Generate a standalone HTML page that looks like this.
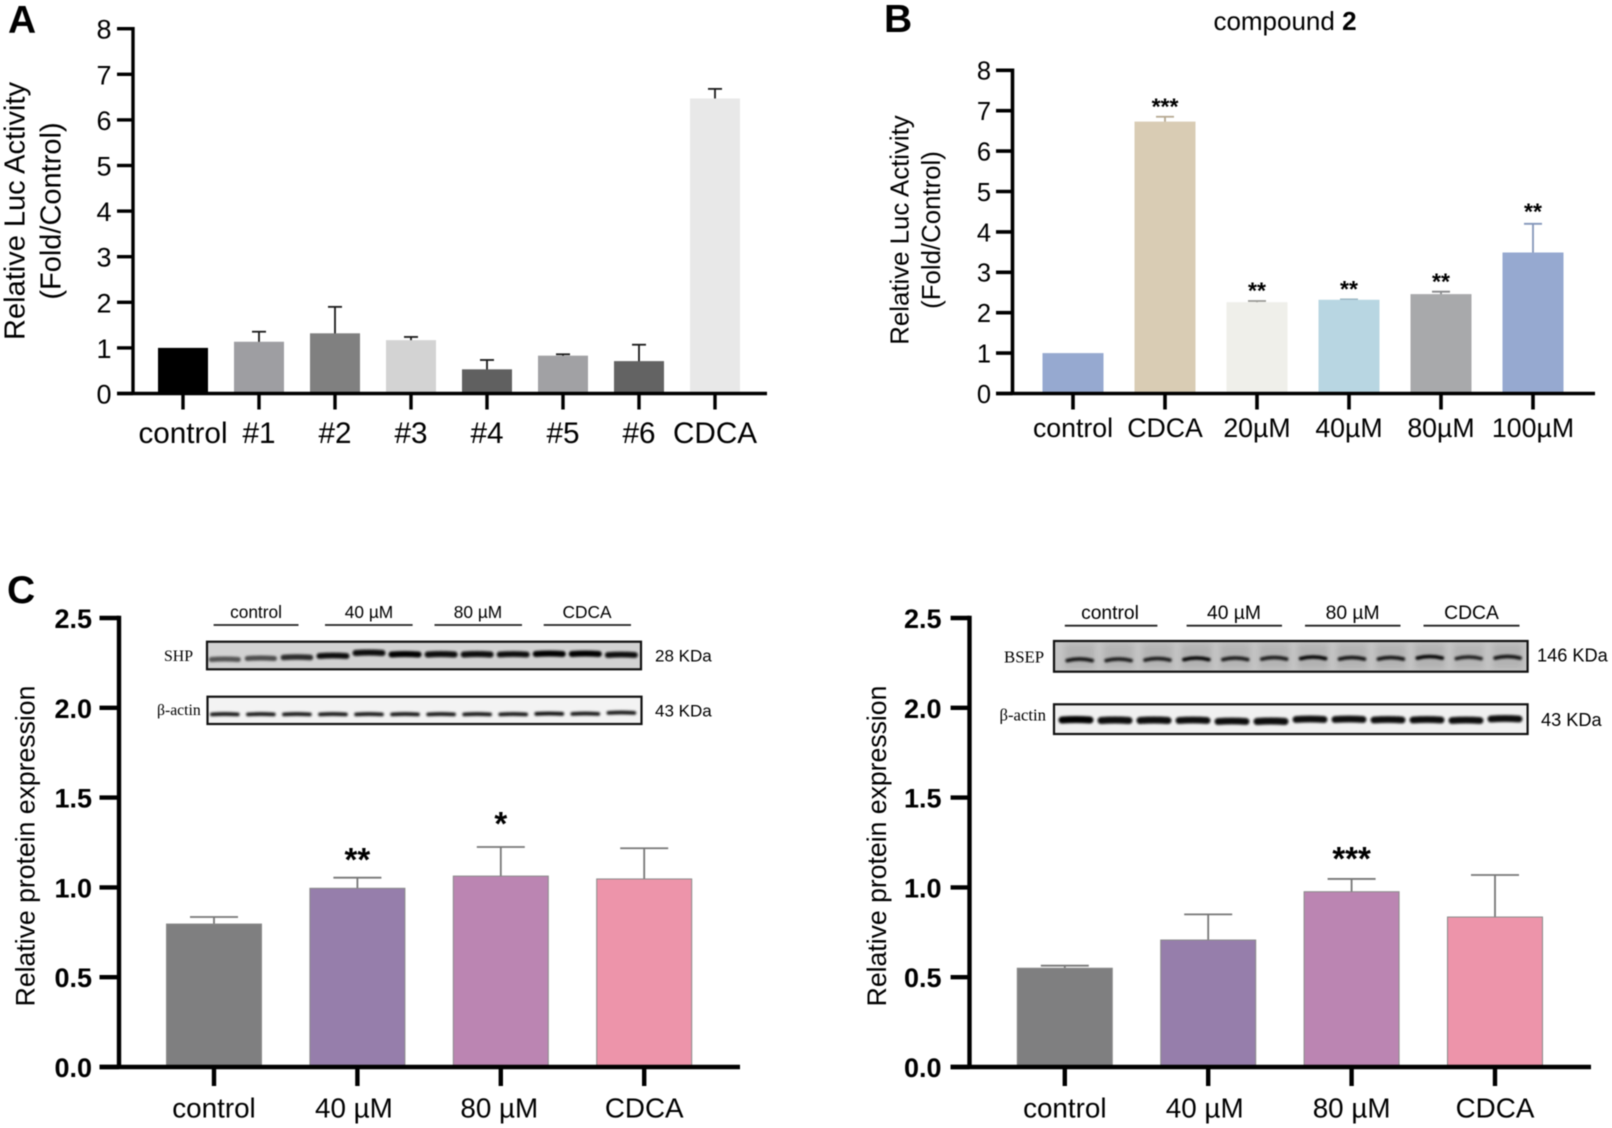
<!DOCTYPE html>
<html lang="en">
<head>
<meta charset="utf-8">
<title>Relative Luc Activity and protein expression panels</title>
<style>
html,body{margin:0;padding:0;background:#fff;width:1612px;height:1128px;overflow:hidden}
svg{display:block;filter:blur(.45px)}
text{font-family:"Liberation Sans",sans-serif;fill:#000}
.serif{font-family:"Liberation Serif",serif}
</style>
</head>
<body>
<svg id="figure" xmlns="http://www.w3.org/2000/svg" width="1612" height="1128" viewBox="0 0 1612 1128">
  <defs>
    <filter id="bandBlur" filterUnits="userSpaceOnUse" x="0" y="0" width="1612" height="1128"><feGaussianBlur stdDeviation="1"/></filter>
    <filter id="laneBlur" x="-30%" y="-30%" width="160%" height="160%"><feGaussianBlur stdDeviation="3"/></filter>
  </defs>
  <rect width="1612" height="1128" fill="#fff"/>

  <text x="8" y="33" font-size="39" font-weight="bold">A</text>
  <text x="884" y="32" font-size="39" font-weight="bold">B</text>
  <text x="7" y="603" font-size="39" font-weight="bold">C</text>
  <text x="1285" y="30" font-size="26" text-anchor="middle">compound <tspan font-weight="bold">2</tspan></text>

  <g font-size="29" text-anchor="middle">
    <text transform="translate(24.5 211) rotate(-90)">Relative Luc Activity</text>
    <text transform="translate(60.5 211) rotate(-90)">(Fold/Control)</text>
  </g>
  <g font-size="25.8" text-anchor="middle">
    <text transform="translate(908.5 230) rotate(-90)">Relative Luc Activity</text>
    <text transform="translate(940 230) rotate(-90)">(Fold/Control)</text>
  </g>
  <text font-size="26.6" text-anchor="middle" transform="translate(34.5 846) rotate(-90)">Relative protein expression</text>
  <text font-size="26.6" text-anchor="middle" transform="translate(886 846) rotate(-90)">Relative protein expression</text>

  <g id="chart-a"></g>
  <g id="chart-b"></g>
  <g id="chart-shp"></g>
  <g id="chart-bsep"></g>

  <g id="blot-shp">
    <g font-size="17.3" text-anchor="middle">
      <text x="256" y="618">control</text><text x="369" y="618">40 µM</text><text x="478" y="618">80 µM</text><text x="587" y="618">CDCA</text>
    </g>
    <g stroke="#222" stroke-width="1.8">
      <line x1="213.6" y1="625" x2="298.5" y2="625"/><line x1="325" y1="625" x2="412.6" y2="625"/><line x1="434.5" y1="625" x2="522" y2="625"/><line x1="543.7" y1="625" x2="631" y2="625"/>
    </g>
    <text class="serif" x="164" y="661" font-size="15.8">SHP</text>
    <text class="serif" x="157" y="715" font-size="15.7">β-actin</text>
    <text x="655" y="661.7" font-size="17">28 KDa</text>
    <text x="655" y="716.7" font-size="17">43 KDa</text>
  </g>

  <g id="blot-bsep">
    <g font-size="19.3" text-anchor="middle">
      <text x="1110" y="619">control</text><text x="1234" y="619">40 µM</text><text x="1352.6" y="619">80 µM</text><text x="1471.5" y="619">CDCA</text>
    </g>
    <g stroke="#222" stroke-width="1.8">
      <line x1="1064.8" y1="625.7" x2="1157.4" y2="625.7"/><line x1="1186.6" y1="625.7" x2="1282" y2="625.7"/><line x1="1305" y1="625.7" x2="1400.5" y2="625.7"/><line x1="1423.5" y1="625.7" x2="1519.5" y2="625.7"/>
    </g>
    <text class="serif" x="1004" y="662.3" font-size="16.8">BSEP</text>
    <text class="serif" x="999.5" y="720.7" font-size="16.7">β-actin</text>
    <text x="1537" y="661.7" font-size="18.2">146 KDa</text>
    <text x="1541" y="726" font-size="18.2">43 KDa</text>
  </g>
</svg>

<script>
/* ---------- Panel A data ---------- */
const aCategories = ['control', '#1', '#2', '#3', '#4', '#5', '#6', 'CDCA'];
const aValues = [1.0, 1.135, 1.32, 1.17, 0.53, 0.83, 0.71, 6.47];
const aErrors = [0, 0.22, 0.58, 0.07, 0.205, 0.03, 0.36, 0.21];
const aStars = ['', '', '', '', '', '', '', ''];
const aTicks = ['0', '1', '2', '3', '4', '5', '6', '7', '8'];
const aBarColors = ['#000000', '#9e9ea2', '#808080', '#d3d3d3', '#606060', '#a1a1a4', '#636363', '#e8e8e8'];

/* ---------- Panel B data ---------- */
const bCategories = ['control', 'CDCA', '20µM', '40µM', '80µM', '100µM'];
const bValues = [1.0, 6.73, 2.26, 2.32, 2.46, 3.49];
const bErrors = [0, 0.12, 0.03, 0.01, 0.06, 0.71];
const bStars = ['', '***', '**', '**', '**', '**'];
const bTicks = ['0', '1', '2', '3', '4', '5', '6', '7', '8'];
const bBarColors = ['#96a9d0', '#d9ccb4', '#efefea', '#b8d6e2', '#a8a9ab', '#96a9d0'];
const bErrorColors = ['#96a9d0', '#b5a890', '#999994', '#98b4c0', '#87888a', '#8496ba'];

/* ---------- Panel C data ---------- */
const cCategories = ['control', '40 µM', '80 µM', 'CDCA'];
const cTicks = ['0.0', '0.5', '1.0', '1.5', '2.0', '2.5'];
const cBarColors = ['#7f7f80', '#967eab', '#bb85b2', '#ed94aa'];
const shpValues = [0.796, 0.995, 1.063, 1.047];
const shpErrors = [0.039, 0.059, 0.162, 0.171];
const shpStars = ['', '**', '*', ''];
const bsepValues = [0.55, 0.707, 0.976, 0.835];
const bsepErrors = [0.014, 0.143, 0.071, 0.234];
const bsepStars = ['', '', '***', ''];

/* ---------- Western blot band densities (12 lanes) ---------- */
const shpDensity = [0.45, 0.5, 0.72, 0.92, 0.95, 0.98, 0.95, 0.95, 0.9, 0.98, 0.98, 0.92];
const shpMigration = [5, 4, 3, 1.5, -1.5, 0, 0, 0, 0, -0.5, -0.5, 0.5];
const shpActinDensity = [0.85, 0.85, 0.85, 0.85, 0.85, 0.85, 0.85, 0.85, 0.85, 0.9, 0.85, 0.85];
const shpActinMigration = [0, 0, 0, 0, 0, 0, 0, 0, 0, -0.5, -0.5, -1.5];
const bsepDensity = [0.92, 0.88, 0.88, 1, 0.88, 0.88, 1, 0.9, 0.92, 1, 0.82, 0.9];
const bsepMigration = [2, 2, 1.5, 1, 1, 0.5, 0, 0.5, 0.5, -0.5, 0, -0.5];
const bsepActinDensity = [0.98, 0.95, 0.95, 0.92, 0.92, 0.95, 0.9, 0.9, 0.92, 0.92, 0.92, 0.92];
const bsepActinMigration = [0, 0.5, 0.5, 0.5, 1.5, 1.5, -0.5, -0.5, 0, 0, 0.5, -1];

const SVG_NS = document.getElementById('figure').namespaceURI;

function mk(tag, attrs, parent, text) {
  const node = document.createElementNS(SVG_NS, tag);
  for (const key in attrs) node.setAttribute(key, attrs[key]);
  if (text !== undefined) node.textContent = text;
  parent.appendChild(node);
  return node;
}

function drawChart(rootId, c) {
  const root = document.getElementById(rootId);
  const yScale = function (v) { return c.baseY - v * c.unit; };
  const xScale = function (i) { return c.firstX + i * c.pitch; };

  c.categories.forEach(function (cat, i) {
    const top = yScale(c.values[i]);
    const errTop = yScale(c.values[i] + c.errors[i]);
    const errColor = c.errorColors ? c.errorColors[i] : c.errorColor;
    if (c.errors[i] > 0) {
      const stem = mk('line', { x1: xScale(i), x2: xScale(i), y1: top + 2, y2: errTop, stroke: errColor, 'stroke-width': c.errWidth }, root);
      
      
      const cap = mk('line', { x1: xScale(i) - c.capWidth / 2, x2: xScale(i) + c.capWidth / 2, y1: errTop, y2: errTop, stroke: errColor, 'stroke-width': c.errWidth }, root);
      
      
    }
    const bar = mk('rect', { x: xScale(i) - c.barWidth / 2, y: top, width: c.barWidth, height: c.baseY - top, fill: c.colors[i] }, root);
    if (c.barStroke) {
      bar.setAttribute('stroke', c.barStroke);
      bar.setAttribute('stroke-width', '1');
    }
    
    

    if (c.stars[i]) {
      const lift = (c.starLift && c.starLift[cat]) || 0;
      const star = mk('text', { x: xScale(i), y: errTop - c.starGap - lift + c.starSize * 0.55, 'font-size': c.starSize, 'font-weight': 'bold', 'text-anchor': 'middle' }, root, c.stars[i]);
      
      
    }

    const tick = mk('line', { x1: xScale(i), x2: xScale(i), y1: c.baseY, y2: c.baseY + c.tickLen, stroke: '#000', 'stroke-width': c.axisWidth }, root);
    
    

    const nudge = (c.labelNudge && c.labelNudge[cat]) || 0;
    const label = mk('text', { x: xScale(i) + nudge, y: c.xLabelY, 'font-size': c.xLabelSize, 'text-anchor': 'middle' }, root, cat);
    
    
  });

  const yAxis = mk('line', { x1: c.axisX, x2: c.axisX, y1: yScale(parseFloat(c.ticks[c.ticks.length - 1])) - c.axisWidth / 2, y2: c.baseY, stroke: '#000', 'stroke-width': c.axisWidth }, root);
  
  

  const xAxis = mk('line', { x1: c.tickLeft, x2: c.axisRight, y1: c.baseY, y2: c.baseY, stroke: '#000', 'stroke-width': c.axisWidth }, root);
  
  

  c.ticks.forEach(function (t) {
    const v = parseFloat(t);
    const yTick = mk('line', { x1: c.tickLeft, x2: c.axisX, y1: yScale(v), y2: yScale(v), stroke: '#000', 'stroke-width': c.axisWidth }, root);
    
    
    const yLabel = mk('text', { x: c.yLabelX, y: yScale(v) + c.yLabelSize * 0.35 + 0.5, 'font-size': c.yLabelSize, 'font-weight': c.yLabelWeight, 'text-anchor': 'end' }, root, t);
    
    
  });
}

function drawBlot(rootId, name, b) {
  const root = document.getElementById(rootId);
  const frame = mk('g', {}, root);
  
  
  mk('rect', { x: b.x, y: b.y, width: b.w, height: b.h, fill: b.bg }, frame);
  const bands = mk('g', { filter: 'url(#bandBlur)' }, frame);
  
  
  b.density.forEach(function (d, i) {
    const cx = b.firstLane + i * b.pitch;
    const cy = b.bandY + b.migration[i];
    if (b.laneShade) {
      mk('rect', { x: cx - b.bandW * 0.6, y: b.y + 3, width: b.bandW * 1.2, height: b.h - 6, fill: '#000', opacity: 0.09 * d, filter: 'url(#laneBlur)' }, frame);
    }
    const tone = Math.round(150 * (1 - d));
    const band = mk('path', {
      d: 'M' + (cx - b.bandW / 2) + ' ' + (cy + b.arch) + ' Q' + cx + ' ' + (cy - b.arch) + ' ' + (cx + b.bandW / 2) + ' ' + (cy + b.arch),
      fill: 'none', stroke: 'rgb(' + tone + ',' + tone + ',' + tone + ')',
      'stroke-width': b.bandT * (0.7 + 0.3 * d), 'stroke-linecap': 'round'
    }, bands);
    
    
  });
  frame.appendChild(bands);
  mk('rect', { x: b.x, y: b.y, width: b.w, height: b.h, fill: 'none', stroke: '#111', 'stroke-width': 2.2 }, frame);
}

drawChart('chart-a', {
  categories: aCategories, values: aValues, errors: aErrors, stars: aStars, ticks: aTicks, colors: aBarColors,
  errorColor: '#1a1a1a', errWidth: 1.8, capWidth: 14, barWidth: 50, firstX: 183, pitch: 76,
  baseY: 393.5, unit: 45.6, axisX: 133, tickLeft: 117, axisRight: 767, axisWidth: 3.4, tickLen: 16,
  xLabelY: 443, xLabelSize: 29.7, yLabelX: 111.5, yLabelSize: 27, yLabelWeight: 'normal',
  starSize: 24, starGap: 14
});

drawChart('chart-b', {
  categories: bCategories, values: bValues, errors: bErrors, stars: bStars, ticks: bTicks, colors: bBarColors,
  errorColors: bErrorColors, errWidth: 1.8, capWidth: 18, barWidth: 61, firstX: 1073, pitch: 92,
  baseY: 393.5, unit: 40.4, axisX: 1012.5, tickLeft: 996, axisRight: 1595, axisWidth: 3.6, tickLen: 16,
  xLabelY: 437, xLabelSize: 26.7, yLabelX: 991, yLabelSize: 25.5, yLabelWeight: 'normal',
  starSize: 23, starGap: 15, starLift: { '100µM': 2 }
});

drawChart('chart-shp', {
  categories: cCategories, values: shpValues, errors: shpErrors, stars: shpStars, ticks: cTicks, colors: cBarColors,
  barStroke: '#8a8a8a', errorColor: '#777', errWidth: 1.8, capWidth: 48, barWidth: 95, firstX: 214, pitch: 143.4,
  baseY: 1067, unit: 179.6, axisX: 119, tickLeft: 99.5, axisRight: 740, axisWidth: 4.4, tickLen: 19,
  xLabelY: 1117.5, xLabelSize: 27.8, yLabelX: 92, yLabelSize: 27, yLabelWeight: 'bold',
  starSize: 33, starGap: 25, starLift: { '80 µM': 5 }, labelNudge: { '40 µM': -3.5, '80 µM': -1.5 }
});

drawChart('chart-bsep', {
  categories: cCategories, values: bsepValues, errors: bsepErrors, stars: bsepStars, ticks: cTicks, colors: cBarColors,
  barStroke: '#8a8a8a', errorColor: '#777', errWidth: 1.8, capWidth: 48, barWidth: 95, firstX: 1064.8, pitch: 143.4,
  baseY: 1067, unit: 179.6, axisX: 969.5, tickLeft: 950.6, axisRight: 1591, axisWidth: 4.4, tickLen: 19,
  xLabelY: 1117.5, xLabelSize: 27.8, yLabelX: 941.5, yLabelSize: 27, yLabelWeight: 'bold',
  starSize: 33, starGap: 27, labelNudge: { '40 µM': -3.5 }
});

drawBlot('blot-shp', 'shp', { x: 207, y: 641.7, w: 434, h: 27.6, bg: '#d2d2d2', firstLane: 224.8, pitch: 36.05, bandY: 654, bandW: 27, bandT: 6, arch: 0.5, density: shpDensity, migration: shpMigration });
drawBlot('blot-shp', 'shp-actin', { x: 207.5, y: 696.7, w: 434, h: 27.3, bg: '#f3f3f3', firstLane: 224.8, pitch: 36.05, bandY: 714, bandW: 26, bandT: 3.8, arch: 0.4, density: shpActinDensity, migration: shpActinMigration });
drawBlot('blot-bsep', 'bsep', { x: 1054, y: 641, w: 473.6, h: 30.7, bg: '#c4c4c4', laneShade: true, firstLane: 1079.7, pitch: 38.9, bandY: 657, bandW: 25, bandT: 3.6, arch: 1.6, density: bsepDensity, migration: bsepMigration });
drawBlot('blot-bsep', 'bsep-actin', { x: 1054, y: 704.3, w: 473.6, h: 29.7, bg: '#f0f0f0', firstLane: 1076, pitch: 39, bandY: 719.5, bandW: 28, bandT: 7, arch: 0.5, density: bsepActinDensity, migration: bsepActinMigration });
</script>
</body>
</html>
